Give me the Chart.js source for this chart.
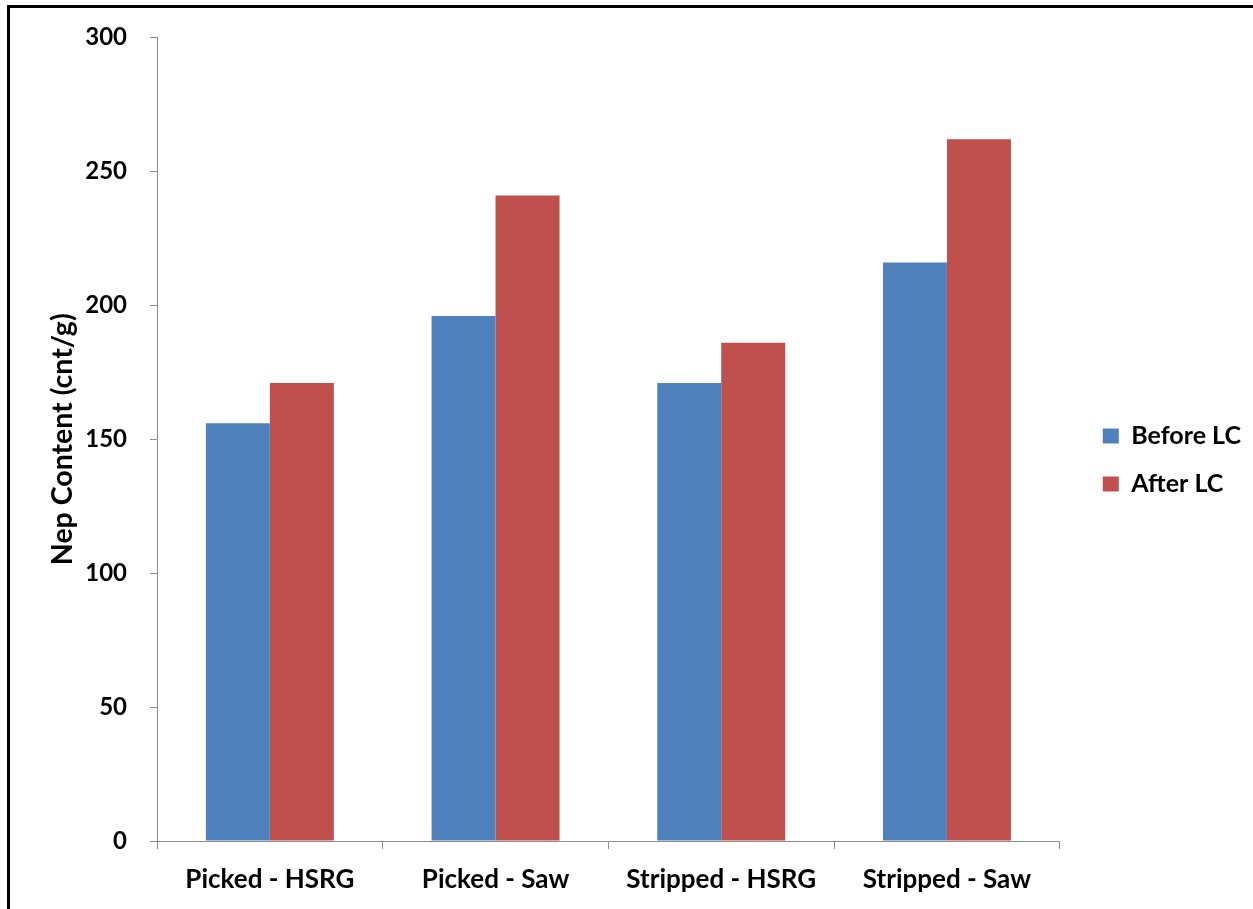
<!DOCTYPE html>
<html>
<head>
<meta charset="utf-8">
<script src="https://cdn.jsdelivr.net/npm/chart.js@4.4.1/dist/chart.umd.min.js"></script>
<style>
  html, body { margin: 0; padding: 0; background: #fff; }
  .wrap { position: relative; width: 1253px; height: 909px; overflow: hidden; }
  .frame { position: absolute; left: 7px; top: 5px; width: 1300px; height: 1000px;
           border-left: 3px solid #000; border-top: 3px solid #000; pointer-events: none; }
  canvas { position: absolute; left: 0; top: 0; }
</style>
</head>
<body>
<div class="wrap">
  <canvas id="chart" width="1253" height="909"></canvas>
  <div class="frame"></div>
</div>
<script>
const CATEGORIES = ['Picked - HSRG', 'Picked - Saw', 'Stripped - HSRG', 'Stripped - Saw'];
const BEFORE_LC = [156, 196, 171, 216];
const AFTER_LC = [171, 241, 186, 262];
const Y_MIN = 0, Y_MAX = 300, Y_STEP = 50;

const FONT = 'Lato, "Open Sans", sans-serif';
const AXIS_GREY = '#8c8c8c';
const LEGEND_PAD = 23;

// Excel puts the legend a bit away from the plot and slightly below centre
const legendNudge = {
  id: 'legendNudge',
  afterLayout(chart) {
    const lg = chart.legend;
    if (!lg) return;
    const dx = (chart.chartArea.right + 43 - LEGEND_PAD) - lg.left;
    const dy = 460 - (lg.top + lg.bottom) / 2;
    lg.left += dx; lg.right += dx;
    lg.top += dy; lg.bottom += dy;
  },
};

new Chart(document.getElementById('chart').getContext('2d'), {
  type: 'bar',
  data: {
    labels: CATEGORIES,
    datasets: [
      { label: 'Before LC', data: BEFORE_LC, backgroundColor: '#4F81BD', borderWidth: 0 },
      { label: 'After LC', data: AFTER_LC, backgroundColor: '#C0504D', borderWidth: 0 },
    ],
  },
  options: {
    responsive: false,
    animation: false,
    layout: { padding: { top: 37, left: 0, right: 22, bottom: 0 } },
    datasets: { bar: { barPercentage: 1, categoryPercentage: 0.567 } },
    plugins: {
      legend: {
        position: 'right',
        labels: {
          boxWidth: 16,
          boxHeight: 15,
          padding: LEGEND_PAD,
          color: '#000',
          font: { family: FONT, size: 25, weight: 'bold' },
        },
      },
      tooltip: { enabled: false },
    },
    scales: {
      x: {
        grid: { display: true, drawOnChartArea: false, drawTicks: true, tickLength: 8, color: AXIS_GREY, offset: true },
        border: { display: true, color: AXIS_GREY, width: 1 },
        ticks: { color: '#000', padding: 15, font: { family: FONT, size: 26, weight: 'bold' } },
        afterFit: (s) => { s.height = 68; },
      },
      y: {
        min: Y_MIN,
        max: Y_MAX,
        ticks: { stepSize: Y_STEP, color: '#000', padding: 23, font: { family: FONT, size: 24, weight: 'bold' } },
        grid: { display: true, drawOnChartArea: false, drawTicks: true, tickLength: 7, color: AXIS_GREY },
        border: { display: true, color: AXIS_GREY, width: 1 },
        title: {
          display: true,
          text: 'Nep Content (cnt/g)',
          color: '#000',
          font: { family: FONT, size: 28.5, weight: 'bold' },
          padding: { top: 46, bottom: 0 },
        },
        afterFit: (s) => { s.width = 157; },
      },
    },
  },
  plugins: [legendNudge],
});
</script>
</body>
</html>
